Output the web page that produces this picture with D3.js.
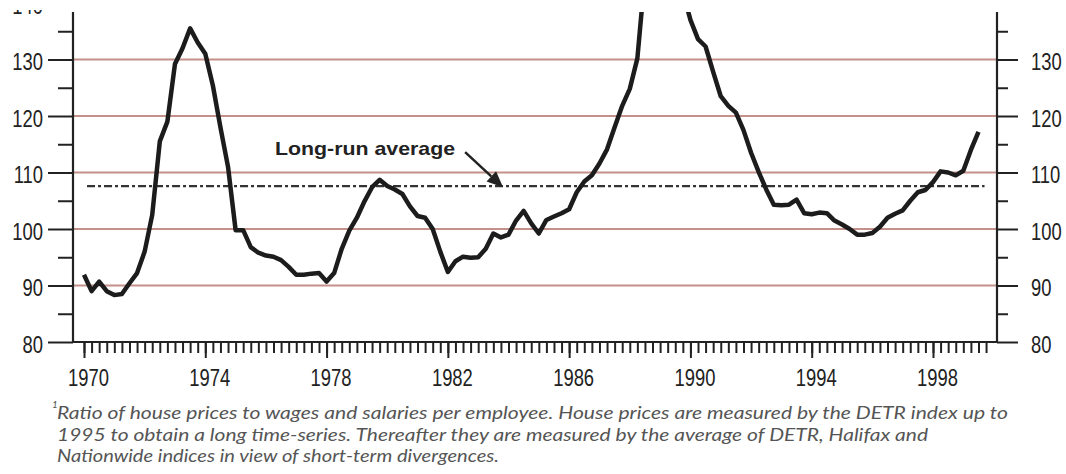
<!DOCTYPE html>
<html>
<head>
<meta charset="utf-8">
<title>House price to earnings ratio</title>
<script src="https://d3js.org/d3.v7.min.js"></script>
<style>
  body { margin: 0; background: #fff; overflow: hidden; }
  .num { font-family: "Liberation Sans", Arimo, sans-serif; fill: #222; }
  .note { font-family: Lato, "Open Sans", sans-serif; font-style: italic; fill: #555; }
</style>
</head>
<body>
<svg id="chart" width="1066" height="474"></svg>
<script>
  // quarterly ratio, index, from 1970 Q1
  const startYear = 1970;
  const ratio1970s = [91.9, 89.0, 90.7, 89.0, 88.3, 88.5, 90.4, 92.2, 96.0, 102.5, 115.5, 119.0,
    129.2, 132.0, 135.5, 133.0, 131.0, 125.4, 118.0, 111.0, 99.8, 99.8, 96.8, 95.8,
    95.3, 95.1, 94.5, 93.3, 91.9, 91.9, 92.1, 92.2, 90.7, 92.2, 96.5, 99.7,
    102.0, 104.9, 107.4, 108.7];
  const ratio1980s = [107.6, 107.0, 106.2, 104.0, 102.3, 102.0, 100.0, 96.0, 92.4, 94.3, 95.1, 94.9,
    95.0, 96.5, 99.2, 98.5, 99.0, 101.5, 103.2, 101.0, 99.2, 101.6, 102.2, 102.8,
    103.5, 106.5, 108.4, 109.5, 111.6, 114.1, 118.0, 121.8, 124.8, 130.2, 145.0, 153.0,
    157.0, 156.0, 150.0, 142.0];
  const ratio1990s = [137.0, 133.6, 132.3, 127.8, 123.5, 121.8, 120.6, 117.5, 113.5, 110.1, 107.0, 104.3,
    104.2, 104.3, 105.2, 102.8, 102.6, 102.9, 102.8, 101.5, 100.8, 100.0, 99.0, 99.0,
    99.3, 100.4, 102.0, 102.7, 103.3, 105.0, 106.5, 106.9, 108.3, 110.2, 110.0, 109.5,
    110.3, 114.0, 117.2];
  const longRunAverage = 107.6;

  const yLeftTicks = [80, 90, 100, 110, 120, 130, 140];
  const yRightTicks = [80, 90, 100, 110, 120, 130];
  const yMinorTicks = [85, 95, 105, 115, 125, 135];
  const gridTicks = [90, 100, 110, 120, 130];
  const yearLabels = [1970, 1974, 1978, 1982, 1986, 1990, 1994, 1998];

  const noteLines = [
    "Ratio of house prices to wages and salaries per employee. House prices are measured by the DETR index up to",
    "1995 to obtain a long time-series. Thereafter they are measured by the average of DETR, Halifax and",
    "Nationwide indices in view of short-term divergences."
  ];

  const data = ratio1970s.concat(ratio1980s, ratio1990s)
    .map((v, i) => ({ t: startYear + i / 4, v: v }));

  // layout
  const plotLeft = 73, plotRight = 997, plotTop = 12, plotBottom = 342;
  const x = d3.scaleLinear().domain([1970, 1998]).range([84, 933]);
  const y = d3.scaleLinear().domain([80, 140]).range([plotBottom, plotBottom - 60 * 5.65]);

  const svg = d3.select("#chart");
  const defs = svg.append("defs");
  defs.append("clipPath").attr("id", "plot")
    .append("rect").attr("x", plotLeft).attr("y", plotTop)
    .attr("width", plotRight - plotLeft).attr("height", plotBottom - plotTop);
  // the source picture is trimmed just above the plot
  defs.append("clipPath").attr("id", "page")
    .append("rect").attr("x", 0).attr("y", 10).attr("width", 1066).attr("height", 464);

  const root = svg.append("g").attr("clip-path", "url(#page)");

  // gridlines
  root.append("g").selectAll("line").data(gridTicks).enter().append("line")
    .attr("x1", plotLeft).attr("x2", plotRight)
    .attr("y1", d => y(d)).attr("y2", d => y(d))
    .attr("stroke", "#c4918a").attr("stroke-width", 2);

  // long-run average
  root.append("line")
    .attr("x1", x(1970.1)).attr("x2", x(1999.7))
    .attr("y1", y(longRunAverage)).attr("y2", y(longRunAverage))
    .attr("stroke", "#333").attr("stroke-width", 2.2)
    .attr("stroke-dasharray", "8,3,3,3");

  // series
  root.append("path").datum(data)
    .attr("clip-path", "url(#plot)")
    .attr("fill", "none").attr("stroke", "#1c1c1c").attr("stroke-width", 4.5)
    .attr("stroke-linejoin", "round")
    .attr("d", d3.line().x(d => x(d.t)).y(d => y(d.v)));

  // axes; labels squeezed horizontally to mimic the narrow digits
  const axisColor = "#222";
  const squeeze = 0.8;
  function styleAxis(g) {
    g.select(".domain").remove();
    g.selectAll(".tick line").attr("stroke", axisColor).attr("stroke-width", 2);
    g.selectAll(".tick text").attr("class", "num").attr("font-size", 23)
      .each(function () {
        const t = d3.select(this);
        const tx = +t.attr("x") || 0;
        const ty = +t.attr("y") || 0;
        t.attr("x", 0).attr("y", 0)
          .attr("transform", `translate(${tx},${ty}) scale(${squeeze},1)`);
      });
  }

  root.append("g").attr("transform", `translate(${plotLeft},0)`)
    .call(d3.axisLeft(y).tickValues(yMinorTicks).tickSize(15).tickFormat(""))
    .call(styleAxis);
  root.append("g").attr("transform", `translate(${plotLeft},0)`)
    .call(d3.axisLeft(y).tickValues(yLeftTicks).tickSize(25).tickPadding(5).tickFormat(d3.format("d")))
    .call(styleAxis)
    .call(g => g.selectAll(".tick text").attr("dy", "0.45em"))
    .call(g => g.selectAll(".tick").filter(d => y(d) < plotTop).select("line").remove());

  root.append("g").attr("transform", `translate(${plotRight},0)`)
    .call(d3.axisRight(y).tickValues(yMinorTicks).tickSize(11).tickFormat(""))
    .call(styleAxis);
  root.append("g").attr("transform", `translate(${plotRight},0)`)
    .call(d3.axisRight(y).tickValues(yRightTicks).tickSize(21).tickPadding(13).tickFormat(d3.format("d")))
    .call(styleAxis)
    .call(g => g.selectAll(".tick text").attr("dy", "0.45em"));

  root.append("g").attr("transform", `translate(0,${plotBottom})`)
    .call(d3.axisBottom(x).tickValues(d3.range(1970, 2000, 0.25)).tickSize(11).tickFormat(""))
    .call(styleAxis);
  root.append("g").attr("transform", `translate(0,${plotBottom})`)
    .call(d3.axisBottom(x).tickValues(yearLabels).tickSize(16).tickPadding(12).tickFormat(d3.format("d")))
    .call(styleAxis)
    .call(g => g.selectAll(".tick text").attr("dx", 5));

  // axis lines
  root.append("g").attr("stroke", axisColor).attr("stroke-width", 2.2)
    .call(g => {
      g.append("line").attr("x1", plotLeft).attr("x2", plotLeft).attr("y1", plotTop).attr("y2", plotBottom);
      g.append("line").attr("x1", plotRight).attr("x2", plotRight).attr("y1", plotTop).attr("y2", plotBottom);
      g.append("line").attr("x1", plotLeft).attr("x2", plotRight).attr("y1", plotBottom).attr("y2", plotBottom);
    });

  // annotation
  root.append("text").attr("class", "num")
    .attr("x", x(1976.3)).attr("y", y(113.1))
    .attr("font-family", "'DejaVu Sans', sans-serif")
    .attr("font-size", 19).attr("font-weight", "bold").attr("fill", "#333")
    .attr("textLength", 180).attr("lengthAdjust", "spacingAndGlyphs")
    .text("Long-run average");

  const a0 = [x(1982.57), y(113.6)], a1 = [x(1983.82), y(107.4)];
  const ang = Math.atan2(a1[1] - a0[1], a1[0] - a0[0]);
  const hl = 16, hw = 7;
  const base = [a1[0] - hl * Math.cos(ang), a1[1] - hl * Math.sin(ang)];
  root.append("line")
    .attr("x1", a0[0]).attr("y1", a0[1]).attr("x2", base[0]).attr("y2", base[1])
    .attr("stroke", "#222").attr("stroke-width", 2.5);
  root.append("polygon")
    .attr("points", [
      a1,
      [base[0] + hw * Math.sin(ang), base[1] - hw * Math.cos(ang)],
      [base[0] - hw * Math.sin(ang), base[1] + hw * Math.cos(ang)]
    ].map(p => p.join(",")).join(" "))
    .attr("fill", "#222");

  // footnote
  const noteWidths = [951, 871, 442];
  const note = root.append("g");
  note.append("text").attr("class", "note").attr("x", 52).attr("y", 408)
    .attr("font-size", 10).text("1");
  note.selectAll("text.line").data(noteLines).enter().append("text")
    .attr("class", "note line")
    .attr("x", 57).attr("y", (d, i) => 419 + i * 21.5)
    .attr("font-size", 16.5)
    .attr("textLength", (d, i) => noteWidths[i])
    .attr("lengthAdjust", "spacingAndGlyphs")
    .text(d => d);
</script>
</body>
</html>
